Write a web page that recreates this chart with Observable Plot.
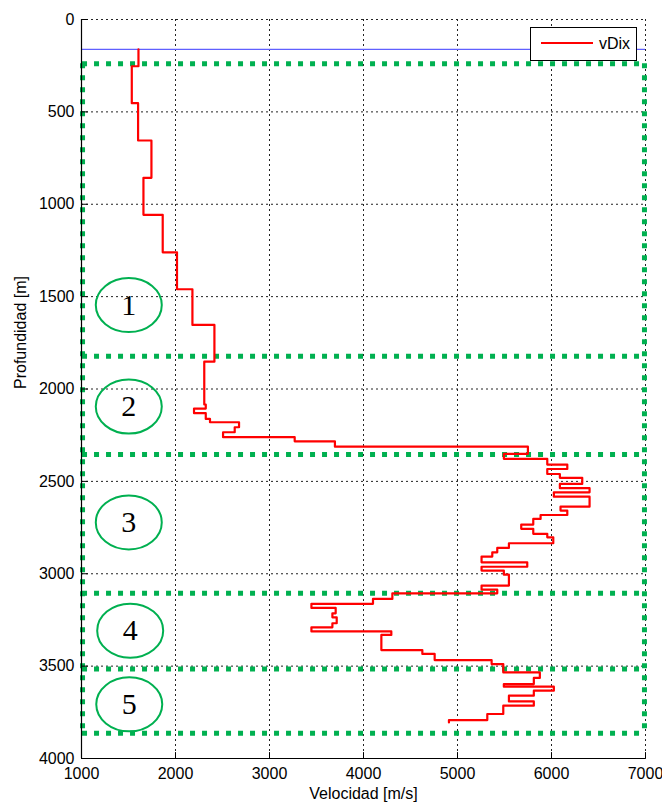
<!DOCTYPE html>
<html>
<head>
<meta charset="utf-8">
<script src="https://cdn.jsdelivr.net/npm/d3@7"></script>
<script src="https://cdn.jsdelivr.net/npm/@observablehq/plot@0.6"></script>
<style>
  html, body { margin: 0; padding: 0; background: #fff; }
  #wrap { position: relative; width: 662px; height: 809px; font-family: "Liberation Sans", Arial, sans-serif; }
  #legend { position: absolute; left: 530px; top: 27px; width: 105px; height: 32px; border: 1px solid #000; background: #fff; }
  #legend .sw { position: absolute; left: 10px; top: 14px; width: 52px; height: 2px; background: #ff0000; }
  #legend .lb { position: absolute; left: 68px; top: 6px; font-size: 16px; line-height: 20px; color: #000; }
</style>
</head>
<body>
<div id="wrap"></div>
<script>
// ---- data ----
const xTicks = [1000, 2000, 3000, 4000, 5000, 6000, 7000];
const yTicks = [0, 500, 1000, 1500, 2000, 2500, 3000, 3500, 4000];
const xAxisTitle = "Velocidad [m/s]";
const yAxisTitle = "Profundidad [m]";
const seriesName = "vDix";

// interval velocity (vDix): top depth of each layer [m] and its velocity [m/s]
const layerTop = [162, 253, 453, 655, 857, 1057, 1260, 1460, 1653, 1852, 2084, 2106, 2131, 2162, 2180, 2207, 2234, 2261, 2283, 2312,
  2351, 2378, 2409, 2433, 2460, 2481, 2514, 2537, 2559, 2583, 2637, 2658, 2682, 2703, 2734, 2757, 2784, 2803, 2835, 2860,
  2884, 2907, 2938, 2962, 2983, 3005, 3064, 3086, 3106, 3136, 3163, 3185, 3214, 3236, 3268, 3290, 3312, 3331, 3413, 3434,
  3467, 3489, 3534, 3564, 3597, 3611, 3633, 3660, 3691, 3714, 3759, 3792];
const velocity = [1606, 1535, 1602, 1744, 1659, 1864, 2016, 2180, 2414, 2306, 2322, 2197, 2322, 2367, 2676, 2630, 2506, 3268, 3696, 5749,
  5493, 5955, 6168, 5955, 6089, 6327, 6089, 6405, 6025, 6405, 6096, 6168, 5884, 5806, 5678, 5806, 5955, 6019, 5547, 5423,
  5370, 5256, 5742, 5256, 5493, 5547, 5256, 5423, 4307, 4101, 3446, 3704, 3669, 3715, 3669, 3446, 4296, 4190, 4626, 4757,
  5363, 5487, 5876, 5812, 5493, 6025, 5812, 5547, 5812, 5487, 5317, 4909];
const bottomDepth = 3805;
const markerDepth = 162;   // blue horizontal line

// zones (green dotted boxes)
const zoneBounds = [240, 1823, 2355, 3106, 3515, 3864];
const zoneLeft = 1011;
const zoneRight = 6989;
const zoneLabels = ["1", "2", "3", "4", "5"];
const zoneLabelDepth = [1546, 2095, 2722, 3308, 3707];
const zoneLabelVel = [1503, 1503, 1503, 1518, 1508];

// ---- derived tables ----
const steps = [];
for (let i = 0; i < layerTop.length; i++) {
  const d2 = i + 1 < layerTop.length ? layerTop[i + 1] : bottomDepth;
  steps.push({v: velocity[i], d: layerTop[i]}, {v: velocity[i], d: d2});
}
const zones = zoneLabels.map((t, i) => ({t, v: zoneLabelVel[i], d: zoneLabelDepth[i]}));

const ellipse = {
  draw(ctx) {
    const a = 33, b = 27, k = 0.5523;
    ctx.moveTo(a, 0);
    ctx.bezierCurveTo(a, k * b, k * a, b, 0, b);
    ctx.bezierCurveTo(-k * a, b, -a, k * b, -a, 0);
    ctx.bezierCurveTo(-a, -k * b, -k * a, -b, 0, -b);
    ctx.bezierCurveTo(k * a, -b, a, -k * b, a, 0);
    ctx.closePath();
  }
};

const green = "#00b050";
const font = "\"Liberation Sans\", Arial, sans-serif";

const chart = Plot.plot({
  width: 662,
  height: 809,
  marginLeft: 81,
  marginRight: 17,
  marginTop: 19,
  marginBottom: 51,
  style: {fontFamily: font, fontSize: "16px", color: "#000", background: "#fff", overflow: "visible"},
  x: {domain: [1000, 7000], ticks: xTicks, tickSize: 0, tickPadding: 9, tickFormat: d => String(d), label: null},
  y: {domain: [0, 4000], reverse: true, ticks: yTicks, tickSize: 0, tickPadding: 7, tickFormat: d => String(d), label: null},
  marks: [
    // grid
    Plot.ruleX(xTicks, {stroke: "#222", strokeWidth: 1, strokeDasharray: "2,3"}),
    Plot.ruleY(yTicks, {stroke: "#222", strokeWidth: 1, strokeDasharray: "2,3"}),
    // green zone boxes
    Plot.ruleY(zoneBounds, {x1: zoneLeft, x2: zoneRight, stroke: green, strokeWidth: 5, strokeDasharray: "5,7"}),
    Plot.ruleX([zoneLeft, zoneRight], {y1: zoneBounds[0], y2: zoneBounds[zoneBounds.length - 1], stroke: green, strokeWidth: 5, strokeDasharray: "5,7"}),
    // blue marker line
    Plot.ruleY([markerDepth], {stroke: "#6060ff", strokeWidth: 1.3}),
    // vDix step line
    Plot.line(steps, {x: "v", y: "d", stroke: "#ff0000", strokeWidth: 2.2, curve: "linear"}),
    // zone ellipses and numbers
    Plot.dot(zones, {x: "v", y: "d", symbol: ellipse, fill: "none", stroke: green, strokeWidth: 2}),
    Plot.text(zones, {x: "v", y: "d", text: "t", fontFamily: "\"Liberation Serif\", \"Times New Roman\", serif", fontSize: 30, fill: "#000"}),
    // axes lines
    Plot.ruleX([xTicks[0]], {stroke: "#000", strokeWidth: 1.2}),
    Plot.ruleY([yTicks[yTicks.length - 1]], {stroke: "#000", strokeWidth: 1.2}),
    // inward tick marks
    Plot.vector(xTicks, {x: d => d, y: yTicks[yTicks.length - 1], length: 6, rotate: 0, anchor: "start", stroke: "#000", strokeWidth: 1, shape: {draw(ctx, l) { ctx.moveTo(0, 0); ctx.lineTo(0, -l); }}}),
    Plot.vector(yTicks, {x: xTicks[0], y: d => d, length: 6, rotate: 90, anchor: "start", stroke: "#000", strokeWidth: 1, shape: {draw(ctx, l) { ctx.moveTo(0, 0); ctx.lineTo(0, -l); }}}),
    // axis titles
    Plot.text([xAxisTitle], {frameAnchor: "bottom", dy: 40, fontSize: 16, fill: "#000"}),
    Plot.text([yAxisTitle], {frameAnchor: "left", dx: -61, rotate: -90, fontSize: 16, fill: "#000"})
  ]
});

const wrap = document.getElementById("wrap");
wrap.appendChild(chart);
const legend = document.createElement("div");
legend.id = "legend";
legend.innerHTML = '<div class="sw"></div><div class="lb"></div>';
legend.querySelector(".lb").textContent = seriesName;
wrap.appendChild(legend);
</script>
</body>
</html>
